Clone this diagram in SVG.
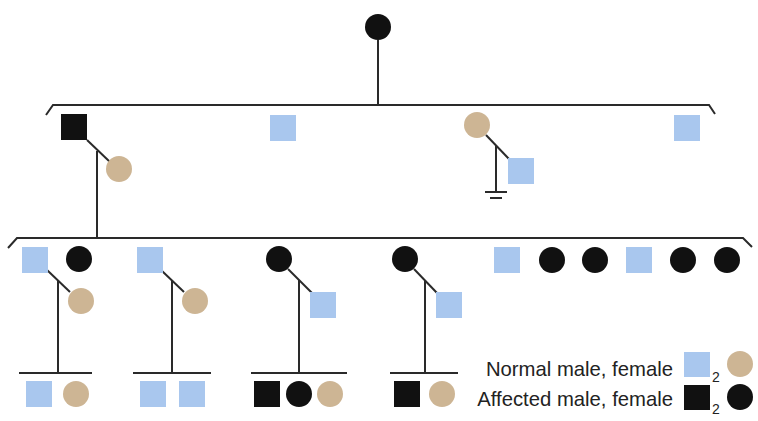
<svg xmlns="http://www.w3.org/2000/svg" width="758" height="421" viewBox="0 0 758 421">
<style>
.ln{stroke:#2a2a2a;stroke-width:2;fill:none}
.nm{fill:#a9c7ee}
.nf{fill:#cdb594}
.af{fill:#111}
.lbl{font-family:"Liberation Sans",Arial,sans-serif;font-size:20.3px;fill:#222}
.sub{font-family:"Liberation Sans",Arial,sans-serif;font-size:14px;fill:#222}
</style>
<rect width="758" height="421" fill="#fff"/>
<g id="connectors">
<path class="ln" d="M378,40 V105"/>
<path class="ln" d="M46,115 L53,105 H709 L715,114"/>
<path class="ln" d="M87,140 L110,162"/>
<path class="ln" d="M97,151 V238"/>
<path class="ln" d="M486,135 L509,159"/>
<path class="ln" d="M496,146 V192"/>
<path class="ln" d="M485,192 H507"/>
<path class="ln" d="M490,198 H502"/>
<path class="ln" d="M8,248 L17,238 H743 L752,247"/>
<path class="ln" d="M47,270 L70,292"/>
<path class="ln" d="M58,280 V373"/>
<path class="ln" d="M19,373 H92"/>
<path class="ln" d="M161,270 L184,292"/>
<path class="ln" d="M172,280 V373"/>
<path class="ln" d="M133,373 H211"/>
<path class="ln" d="M288,269 L312,293"/>
<path class="ln" d="M299,280 V373"/>
<path class="ln" d="M251,373 H347"/>
<path class="ln" d="M414,269 L437,293"/>
<path class="ln" d="M425,280 V373"/>
<path class="ln" d="M390,373 H458"/>
</g>
<g id="g1-female"><circle class="af" cx="378" cy="27" r="13"/></g>
<g id="g2-male1"><rect class="af" x="61" y="114" width="26" height="26"/></g>
<g id="g2-spouse1"><circle class="nf" cx="119" cy="169" r="13"/></g>
<g id="g2-male2"><rect class="nm" x="270" y="115" width="26" height="26"/></g>
<g id="g2-female3"><circle class="nf" cx="477" cy="125" r="13"/></g>
<g id="g2-spouse3"><rect class="nm" x="508" y="158" width="26" height="26"/></g>
<g id="g2-male4"><rect class="nm" x="674" y="115" width="26" height="26"/></g>
<g id="g3-1"><rect class="nm" x="22" y="247" width="26" height="26"/></g>
<g id="g3-1s"><circle class="nf" cx="81" cy="301" r="13"/></g>
<g id="g3-2"><circle class="af" cx="79" cy="259" r="13"/></g>
<g id="g3-3"><rect class="nm" x="137" y="247" width="26" height="26"/></g>
<g id="g3-3s"><circle class="nf" cx="195" cy="301" r="13"/></g>
<g id="g3-4"><circle class="af" cx="279" cy="259" r="13"/></g>
<g id="g3-4s"><rect class="nm" x="310" y="292" width="26" height="26"/></g>
<g id="g3-5"><circle class="af" cx="405" cy="259" r="13"/></g>
<g id="g3-5s"><rect class="nm" x="436" y="292" width="26" height="26"/></g>
<g id="g3-6"><rect class="nm" x="494" y="247" width="26" height="26"/></g>
<g id="g3-7"><circle class="af" cx="552" cy="260" r="13"/></g>
<g id="g3-8"><circle class="af" cx="595" cy="260" r="13"/></g>
<g id="g3-9"><rect class="nm" x="626" y="247" width="26" height="26"/></g>
<g id="g3-10"><circle class="af" cx="683" cy="260" r="13"/></g>
<g id="g3-11"><circle class="af" cx="727" cy="260" r="13"/></g>
<g id="g4-1"><rect class="nm" x="26" y="381" width="26" height="26"/><circle class="nf" cx="76" cy="394" r="13"/></g>
<g id="g4-2"><rect class="nm" x="140" y="381" width="26" height="26"/><rect class="nm" x="179" y="381" width="26" height="26"/></g>
<g id="g4-3"><rect class="af" x="254" y="381" width="26" height="26"/><circle class="af" cx="299" cy="394" r="13"/><circle class="nf" cx="330" cy="394" r="13"/></g>
<g id="g4-4"><rect class="af" x="394" y="381" width="26" height="26"/><circle class="nf" cx="442" cy="394" r="13"/></g>
<g id="legend">
<text class="lbl" x="673" y="376" text-anchor="end">Normal male, female</text>
<text class="lbl" x="673" y="406" text-anchor="end">Affected male, female</text>
<rect class="nm" x="684" y="352" width="26" height="25"/>
<text class="sub" x="712" y="382">2</text>
<circle class="nf" cx="740" cy="364" r="13"/>
<rect class="af" x="684" y="385" width="26" height="25"/>
<text class="sub" x="712" y="414">2</text>
<circle class="af" cx="740" cy="397" r="13"/>
</g>
</svg>
